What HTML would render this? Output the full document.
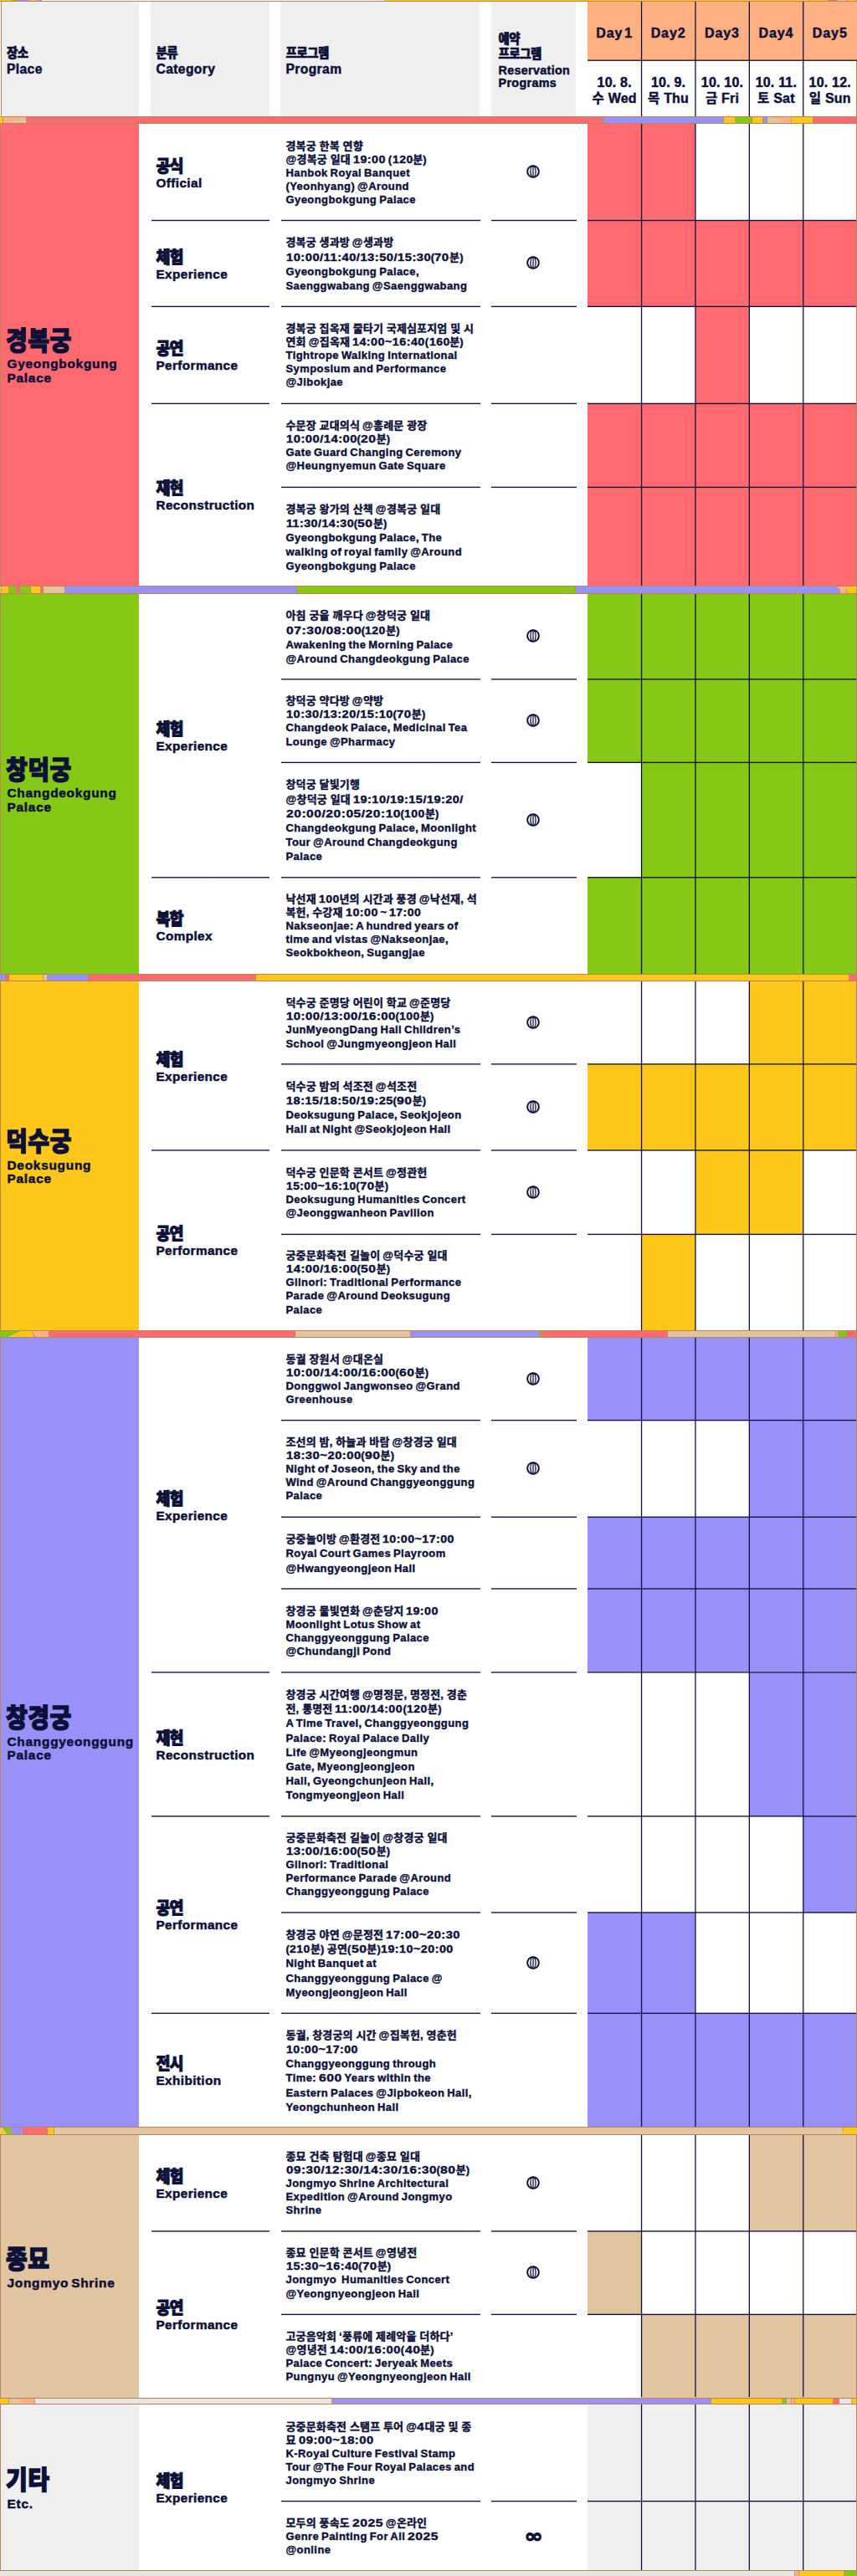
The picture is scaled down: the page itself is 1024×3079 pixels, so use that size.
<!DOCTYPE html>
<html lang="ko"><head><meta charset="utf-8"><title>Schedule</title><style>
html,body{margin:0;padding:0;background:#fff}
body{width:1024px;height:3079px;position:relative;overflow:hidden;color:#0d1038;font-family:"Liberation Sans","Noto Sans CJK KR",sans-serif;font-weight:700}
#pg{position:absolute;left:0;top:0;width:1024px;height:3079px;overflow:hidden}
#pg>div{position:absolute}
.hk{font-family:"Noto Sans CJK KR",sans-serif;font-weight:900;font-size:14.5px;line-height:20px;letter-spacing:-.5px;-webkit-text-stroke:.6px #0d1038;transform:scaleY(1.06);transform-origin:left center;white-space:nowrap}
.he{font-weight:700;font-size:15.6px;line-height:20px;letter-spacing:.4px;-webkit-text-stroke:.5px #0d1038;white-space:nowrap}
.he2{font-size:14.3px;letter-spacing:.35px}
.dh,.dd{-webkit-text-stroke:.45px #0d1038;display:flex;align-items:center;justify-content:center;text-align:center;font-size:16px;white-space:nowrap}
.dh{letter-spacing:.9px;padding-top:5px;box-sizing:border-box}
.dd{line-height:18.8px;letter-spacing:.2px;padding-top:5.4px;box-sizing:border-box}
.dd .k{font-family:"Noto Sans CJK KR",sans-serif;font-weight:700;font-size:15.5px;line-height:0}
.pl{display:flex;align-items:center}
.plin{padding-left:6px}
.pk{-webkit-text-stroke:1.2px #0d1038;font-family:"Noto Sans CJK KR",sans-serif;font-weight:900;font-size:28px;line-height:34px;letter-spacing:.5px;transform:scaleY(1.1);transform-origin:left center;white-space:nowrap}
.pe{-webkit-text-stroke:.5px #0d1038;font-size:15.4px;line-height:16.3px;letter-spacing:.75px;white-space:nowrap;word-spacing:-2px;margin-top:5.5px;padding-left:1.5px}
.ct{display:flex;align-items:center}
.ck{-webkit-text-stroke:.9px #0d1038;font-family:"Noto Sans CJK KR",sans-serif;font-weight:900;font-size:18.5px;line-height:22px;letter-spacing:-1px;transform:scaleY(1.1);transform-origin:left center;white-space:nowrap}
.ce{-webkit-text-stroke:.5px #0d1038;font-size:15.3px;line-height:18px;letter-spacing:.4px;white-space:nowrap;position:relative;top:2px}
.pg{-webkit-text-stroke:.4px #0d1038;display:flex;align-items:center;font-size:13px;line-height:16.3px;letter-spacing:.42px;word-spacing:-1.1px;white-space:nowrap;padding-top:2.4px;box-sizing:border-box}
.T{line-height:17.15px}
.N{line-height:16.1px}
.k{letter-spacing:.15px;word-spacing:0}
.d{display:inline-block;transform-origin:0 50%}
.rv{display:flex;align-items:center;justify-content:center}
.ic{display:block;position:relative;left:-.4px;top:-.2px}
.inf{font-family:"DejaVu Sans","Liberation Sans",sans-serif;font-size:23px;font-weight:700;line-height:1;-webkit-text-stroke:1.1px #0d1038;display:inline-block;transform:scaleX(1.16);position:relative;top:1.2px;left:.5px}
</style></head><body><div id="pg">
<div style="left:0px;top:0px;width:15px;height:2px;background:#ffc71a;box-shadow:inset -1px 0 0 rgba(185,133,82,.75)"></div>
<div style="left:15px;top:0px;width:6px;height:2px;background:#86c816;box-shadow:inset -1px 0 0 rgba(185,133,82,.75)"></div>
<div style="left:21px;top:0px;width:14px;height:2px;background:#9891fa;box-shadow:inset -1px 0 0 rgba(185,133,82,.75)"></div>
<div style="left:35px;top:0px;width:11px;height:2px;background:#ffb083;box-shadow:inset -1px 0 0 rgba(185,133,82,.75)"></div>
<div style="left:46px;top:0px;width:4px;height:2px;background:#9891fa;box-shadow:inset -1px 0 0 rgba(185,133,82,.75)"></div>
<div style="left:459px;top:0px;width:531px;height:2px;background:#ffc71a;box-shadow:inset -1px 0 0 rgba(185,133,82,.75)"></div>
<div style="left:990px;top:0px;width:10px;height:2px;background:#ff6a71;box-shadow:inset -1px 0 0 rgba(185,133,82,.75)"></div>
<div style="left:1000px;top:0px;width:12px;height:2px;background:#e2c4a0;box-shadow:inset -1px 0 0 rgba(185,133,82,.75)"></div>
<div style="left:1012px;top:0px;width:12px;height:2px;background:#ffc71a;box-shadow:inset -1px 0 0 rgba(185,133,82,.75)"></div>
<div style="left:0px;top:139px;width:4px;height:10px;background:#ffc71a;box-shadow:inset -1px 0 0 rgba(185,133,82,.75)"></div>
<div style="left:4px;top:139px;width:27px;height:10px;background:#ffb083;box-shadow:inset -1px 0 0 rgba(185,133,82,.75)"></div>
<div style="left:31px;top:139px;width:690px;height:10px;background:#ff6a71;box-shadow:inset -1px 0 0 rgba(185,133,82,.75)"></div>
<div style="left:721px;top:139px;width:144px;height:10px;background:#9891fa;box-shadow:inset -1px 0 0 rgba(185,133,82,.75)"></div>
<div style="left:865px;top:139px;width:14px;height:10px;background:#ffc71a;box-shadow:inset -1px 0 0 rgba(185,133,82,.75)"></div>
<div style="left:879px;top:139px;width:20px;height:10px;background:#86c816;box-shadow:inset -1px 0 0 rgba(185,133,82,.75)"></div>
<div style="left:899px;top:139px;width:13px;height:10px;background:#ffc71a;box-shadow:inset -1px 0 0 rgba(185,133,82,.75)"></div>
<div style="left:912px;top:139px;width:5px;height:10px;background:#9891fa;box-shadow:inset -1px 0 0 rgba(185,133,82,.75)"></div>
<div style="left:917px;top:139px;width:29px;height:10px;background:#e2c4a0;box-shadow:inset -1px 0 0 rgba(185,133,82,.75)"></div>
<div style="left:946px;top:139px;width:26px;height:10px;background:#ffc71a;box-shadow:inset -1px 0 0 rgba(185,133,82,.75)"></div>
<div style="left:972px;top:139px;width:52px;height:10px;background:#ff6a71;box-shadow:inset -1px 0 0 rgba(185,133,82,.75)"></div>
<div style="left:0px;top:700px;width:2px;height:10px;background:#e2c4a0;box-shadow:inset -1px 0 0 rgba(185,133,82,.75)"></div>
<div style="left:2px;top:700px;width:9px;height:10px;background:#ffc71a;box-shadow:inset -1px 0 0 rgba(185,133,82,.75)"></div>
<div style="left:11px;top:700px;width:9px;height:10px;background:#86c816;box-shadow:inset -1px 0 0 rgba(185,133,82,.75)"></div>
<div style="left:20px;top:700px;width:4px;height:10px;background:#ff6a71;box-shadow:inset -1px 0 0 rgba(185,133,82,.75)"></div>
<div style="left:24px;top:700px;width:13px;height:10px;background:#86c816;box-shadow:inset -1px 0 0 rgba(185,133,82,.75)"></div>
<div style="left:37px;top:700px;width:12px;height:10px;background:#ffc71a;box-shadow:inset -1px 0 0 rgba(185,133,82,.75)"></div>
<div style="left:49px;top:700px;width:3px;height:10px;background:#ff6a71;box-shadow:inset -1px 0 0 rgba(185,133,82,.75)"></div>
<div style="left:52px;top:700px;width:26px;height:10px;background:#e2c4a0;box-shadow:inset -1px 0 0 rgba(185,133,82,.75)"></div>
<div style="left:78px;top:700px;width:277px;height:10px;background:#9891fa;box-shadow:inset -1px 0 0 rgba(185,133,82,.75)"></div>
<div style="left:355px;top:700px;width:333px;height:10px;background:#86c816;box-shadow:inset -1px 0 0 rgba(185,133,82,.75)"></div>
<div style="left:688px;top:700px;width:316px;height:10px;background:#9891fa;box-shadow:inset -1px 0 0 rgba(185,133,82,.75)"></div>
<div style="left:1004px;top:700px;width:8px;height:10px;background:#ffb083;box-shadow:inset -1px 0 0 rgba(185,133,82,.75)"></div>
<div style="left:1012px;top:700px;width:12px;height:10px;background:#ffc71a;box-shadow:inset -1px 0 0 rgba(185,133,82,.75)"></div>
<div style="left:0px;top:1163px;width:7px;height:10px;background:#9891fa;box-shadow:inset -1px 0 0 rgba(185,133,82,.75)"></div>
<div style="left:7px;top:1163px;width:4px;height:10px;background:#ff6a71;box-shadow:inset -1px 0 0 rgba(185,133,82,.75)"></div>
<div style="left:11px;top:1163px;width:41px;height:10px;background:#ffc71a;box-shadow:inset -1px 0 0 rgba(185,133,82,.75)"></div>
<div style="left:52px;top:1163px;width:5px;height:10px;background:#e2c4a0;box-shadow:inset -1px 0 0 rgba(185,133,82,.75)"></div>
<div style="left:57px;top:1163px;width:49px;height:10px;background:#9891fa;box-shadow:inset -1px 0 0 rgba(185,133,82,.75)"></div>
<div style="left:106px;top:1163px;width:200px;height:10px;background:#ff6a71;box-shadow:inset -1px 0 0 rgba(185,133,82,.75)"></div>
<div style="left:306px;top:1163px;width:709px;height:10px;background:#ffc71a;box-shadow:inset -1px 0 0 rgba(185,133,82,.75)"></div>
<div style="left:1015px;top:1163px;width:9px;height:10px;background:#ff6a71;box-shadow:inset -1px 0 0 rgba(185,133,82,.75)"></div>
<div style="left:0px;top:1589px;width:38px;height:10px;background:#86c816;box-shadow:inset -1px 0 0 rgba(185,133,82,.75)"></div>
<div style="left:38px;top:1589px;width:20px;height:10px;background:#ff6a71;box-shadow:inset -1px 0 0 rgba(185,133,82,.75)"></div>
<div style="left:58px;top:1589px;width:295px;height:10px;background:#ff6a71;box-shadow:inset -1px 0 0 rgba(185,133,82,.75)"></div>
<div style="left:353px;top:1589px;width:138px;height:10px;background:#e2c4a0;box-shadow:inset -1px 0 0 rgba(185,133,82,.75)"></div>
<div style="left:491px;top:1589px;width:154px;height:10px;background:#9891fa;box-shadow:inset -1px 0 0 rgba(185,133,82,.75)"></div>
<div style="left:645px;top:1589px;width:2px;height:10px;background:#86c816;box-shadow:inset -1px 0 0 rgba(185,133,82,.75)"></div>
<div style="left:647px;top:1589px;width:151px;height:10px;background:#ff6a71;box-shadow:inset -1px 0 0 rgba(185,133,82,.75)"></div>
<div style="left:798px;top:1589px;width:201px;height:10px;background:#e2c4a0;box-shadow:inset -1px 0 0 rgba(185,133,82,.75)"></div>
<div style="left:999px;top:1589px;width:3px;height:10px;background:#ffb083;box-shadow:inset -1px 0 0 rgba(185,133,82,.75)"></div>
<div style="left:1002px;top:1589px;width:10px;height:10px;background:#86c816;box-shadow:inset -1px 0 0 rgba(185,133,82,.75)"></div>
<div style="left:1012px;top:1589px;width:12px;height:10px;background:#ff6a71;box-shadow:inset -1px 0 0 rgba(185,133,82,.75)"></div>
<div style="left:0px;top:2541px;width:12px;height:11px;background:#e2c4a0;box-shadow:inset -1px 0 0 rgba(185,133,82,.75)"></div>
<div style="left:12px;top:2541px;width:16px;height:11px;background:#9891fa;box-shadow:inset -1px 0 0 rgba(185,133,82,.75)"></div>
<div style="left:28px;top:2541px;width:29px;height:11px;background:#ff6a71;box-shadow:inset -1px 0 0 rgba(185,133,82,.75)"></div>
<div style="left:57px;top:2541px;width:8px;height:11px;background:#ffc71a;box-shadow:inset -1px 0 0 rgba(185,133,82,.75)"></div>
<div style="left:65px;top:2541px;width:943px;height:11px;background:#e2c4a0;box-shadow:inset -1px 0 0 rgba(185,133,82,.75)"></div>
<div style="left:1008px;top:2541px;width:16px;height:11px;background:#ffc71a;box-shadow:inset -1px 0 0 rgba(185,133,82,.75)"></div>
<div style="left:0px;top:2865px;width:11px;height:10px;background:#ffc71a;box-shadow:inset -1px 0 0 rgba(185,133,82,.75)"></div>
<div style="left:11px;top:2865px;width:31px;height:10px;background:#e2c4a0;box-shadow:inset -1px 0 0 rgba(185,133,82,.75)"></div>
<div style="left:42px;top:2865px;width:355px;height:10px;background:#e6e6e6;box-shadow:inset -1px 0 0 rgba(185,133,82,.75)"></div>
<div style="left:397px;top:2865px;width:453px;height:10px;background:#9891fa;box-shadow:inset -1px 0 0 rgba(185,133,82,.75)"></div>
<div style="left:850px;top:2865px;width:85px;height:10px;background:#ffc71a;box-shadow:inset -1px 0 0 rgba(185,133,82,.75)"></div>
<div style="left:935px;top:2865px;width:5px;height:10px;background:#86c816;box-shadow:inset -1px 0 0 rgba(185,133,82,.75)"></div>
<div style="left:940px;top:2865px;width:6px;height:10px;background:#e2c4a0;box-shadow:inset -1px 0 0 rgba(185,133,82,.75)"></div>
<div style="left:946px;top:2865px;width:4px;height:10px;background:#ffb083;box-shadow:inset -1px 0 0 rgba(185,133,82,.75)"></div>
<div style="left:950px;top:2865px;width:46px;height:10px;background:#ffc71a;box-shadow:inset -1px 0 0 rgba(185,133,82,.75)"></div>
<div style="left:996px;top:2865px;width:7px;height:10px;background:#ff6a71;box-shadow:inset -1px 0 0 rgba(185,133,82,.75)"></div>
<div style="left:1003px;top:2865px;width:15px;height:10px;background:#e6e6e6;box-shadow:inset -1px 0 0 rgba(185,133,82,.75)"></div>
<div style="left:1018px;top:2865px;width:6px;height:10px;background:#ffc71a;box-shadow:inset -1px 0 0 rgba(185,133,82,.75)"></div>
<div style="left:0px;top:3071px;width:950px;height:8px;background:#e6e6e6;box-shadow:inset -1px 0 0 rgba(185,133,82,.75)"></div>
<div style="left:950px;top:3071px;width:5px;height:8px;background:#ffb083;box-shadow:inset -1px 0 0 rgba(185,133,82,.75)"></div>
<div style="left:955px;top:3071px;width:54px;height:8px;background:#ffc71a;box-shadow:inset -1px 0 0 rgba(185,133,82,.75)"></div>
<div style="left:1009px;top:3071px;width:15px;height:8px;background:#86c816;box-shadow:inset -1px 0 0 rgba(185,133,82,.75)"></div>
<div style="left:4px;top:140px;width:27px;height:7px;background:#e2c4a0;clip-path:polygon(8px 7px,27px 0px,27px 7px)"></div>
<div style="left:917px;top:140px;width:29px;height:7px;background:#ffb083;clip-path:polygon(7px 0px,29px 0px,27px 7px,21px 7px)"></div>
<div style="left:1000px;top:701px;width:14px;height:8px;background:#ffb083;clip-path:polygon(0px 0px,14px 0px,7px 8px)"></div>
<div style="left:0px;top:1590px;width:40px;height:8px;background:#ffc71a;clip-path:polygon(10px 8px,26px 0px,38px 0px,40px 8px)"></div>
<div style="left:0px;top:1590px;width:60px;height:8px;background:#ffb083;clip-path:polygon(38px 0px,58px 0px,58px 8px,42px 8px)"></div>
<div style="left:1000px;top:1590px;width:14px;height:8px;background:#86c816;clip-path:polygon(2px 0px,7px 0px,12px 8px,2px 8px)"></div>
<div style="left:0px;top:2543px;width:18px;height:8px;background:#86c816;clip-path:polygon(3px 0px,10px 0px,16px 8px,8px 8px)"></div>
<div style="left:0px;top:2543px;width:8px;height:8px;background:#ffc71a;clip-path:polygon(0px 8px,3px 0px,6px 8px)"></div>
<div style="left:1004px;top:2543px;width:20px;height:8px;background:#ffc71a;clip-path:polygon(0px 8px,8px 0px,20px 0px,20px 8px)"></div>
<div style="left:11px;top:2866px;width:31px;height:8px;background:#ffb083;clip-path:polygon(8px 0px,31px 0px,29px 8px,20px 8px)"></div>
<div style="left:1px;top:1px;width:1023px;height:139px;background:#fff;border:1px solid #b98552;box-sizing:border-box"></div>
<div style="left:2px;top:2px;width:164px;height:137px;background:#efefef"></div>
<div class="hk" style="left:8px;top:53px;width:300px;height:20px;">장소</div>
<div class="he" style="left:8px;top:72.6px;width:300px;height:20px;">Place</div>
<div style="left:180px;top:2px;width:142px;height:137px;background:#efefef"></div>
<div class="hk" style="left:186.5px;top:53px;width:300px;height:20px;">분류</div>
<div class="he" style="left:186.5px;top:72.6px;width:300px;height:20px;">Category</div>
<div style="left:335px;top:2px;width:238px;height:137px;background:#efefef"></div>
<div class="hk" style="left:341.5px;top:53px;width:300px;height:20px;">프로그램</div>
<div class="he" style="left:341.5px;top:72.6px;width:300px;height:20px;">Program</div>
<div style="left:587px;top:2px;width:101px;height:137px;background:#efefef"></div>
<div class="hk" style="left:595.5px;top:36px;width:300px;height:20px;">예약</div>
<div class="hk" style="left:595.5px;top:54px;width:300px;height:20px;">프로그램</div>
<div class="he he2" style="left:595.5px;top:74px;width:300px;height:20px;">Reservation</div>
<div class="he he2" style="left:595.5px;top:89px;width:300px;height:20px;">Programs</div>
<div style="left:702px;top:2px;width:322px;height:70px;background:#ffb083"></div>
<div style="left:702px;top:71px;width:322px;height:2px;background:linear-gradient(to bottom,rgba(14,16,58,0.47) 0px 1px,rgba(14,16,58,0.88) 1px 2px)"></div>
<div class="dh" style="left:702px;top:2px;width:64.4px;height:70px;"><div>Day<span style='margin-left:2px'>1</span></div></div>
<div class="dd" style="left:702px;top:73px;width:64.4px;height:66px;"><div>10. 8.<br><span class="k">수</span> Wed</div></div>
<div style="left:765px;top:2px;width:3px;height:137px;background:linear-gradient(to right,rgba(14,16,58,0.10) 0px 1px,rgba(14,16,58,1.00) 1px 2px,rgba(14,16,58,0.20) 2px 3px)"></div>
<div class="dh" style="left:766.4px;top:2px;width:64.4px;height:70px;"><div>Day2</div></div>
<div class="dd" style="left:766.4px;top:73px;width:64.4px;height:66px;"><div>10. 9.<br><span class="k">목</span> Thu</div></div>
<div style="left:830px;top:2px;width:2px;height:137px;background:linear-gradient(to right,rgba(14,16,58,0.70) 0px 1px,rgba(14,16,58,0.60) 1px 2px)"></div>
<div class="dh" style="left:830.8px;top:2px;width:64.4px;height:70px;"><div>Day3</div></div>
<div class="dd" style="left:830.8px;top:73px;width:64.4px;height:66px;"><div>10. 10.<br><span class="k">금</span> Fri</div></div>
<div style="left:894px;top:2px;width:2px;height:137px;background:linear-gradient(to right,rgba(14,16,58,0.30) 0px 1px,rgba(14,16,58,1.00) 1px 2px)"></div>
<div class="dh" style="left:895.2px;top:2px;width:64.4px;height:70px;"><div>Day4</div></div>
<div class="dd" style="left:895.2px;top:73px;width:64.4px;height:66px;"><div>10. 11.<br><span class="k">토</span> Sat</div></div>
<div style="left:959px;top:2px;width:2px;height:137px;background:linear-gradient(to right,rgba(14,16,58,0.90) 0px 1px,rgba(14,16,58,0.40) 1px 2px)"></div>
<div class="dh" style="left:959.6px;top:2px;width:64.4px;height:70px;"><div>Day5</div></div>
<div class="dd" style="left:959.6px;top:73px;width:64.4px;height:66px;"><div>10. 12.<br><span class="k">일</span> Sun</div></div>
<div style="left:1px;top:148px;width:1022px;height:552px;background:#fff;box-shadow:0 0 0 1px #b98552"></div>
<div class="pl" style="left:1px;top:148px;width:165px;height:552px;background:#ff6a71"><div class="plin"><div class="pk">경복궁</div><div class="pe">Gyeongbokgung<br>Palace</div></div></div>
<div class="pg N" style="left:341.5px;top:148px;width:251.5px;height:115.1px;"><div><span class="k">경복궁 한복 연향</span><br>@<span class="k">경복궁 일대</span> <span class="d" style="transform:scaleX(1.102);margin-right:3.60px">19:00</span> (<span class="d" style="transform:scaleX(1.076);margin-right:1.75px">120</span><span class="k">분</span>)<br>Hanbok Royal Banquet<br>(Yeonhyang) @Around<br>Gyeongbokgung Palace</div></div>
<div style="left:335.5px;top:262px;width:238px;height:3px;background:linear-gradient(to bottom,rgba(14,16,58,0.18) 0px 1px,rgba(14,16,58,1.00) 1px 2px,rgba(14,16,58,0.18) 2px 3px)"></div>
<div style="left:587px;top:262px;width:101.5px;height:3px;background:linear-gradient(to bottom,rgba(14,16,58,0.18) 0px 1px,rgba(14,16,58,1.00) 1px 2px,rgba(14,16,58,0.18) 2px 3px)"></div>
<div class="rv" style="left:587px;top:148px;width:101px;height:115.1px;"><svg class="ic" width="18" height="18" viewBox="-9 -9 18 18"><circle r="6.85" fill="none" stroke="#0d1038" stroke-width="1.95"/><ellipse rx="3.1" ry="6.8" fill="none" stroke="#0d1038" stroke-width="1.3"/><line y1="-7" y2="7" stroke="#0d1038" stroke-width="1.25"/></svg></div>
<div style="left:702px;top:148px;width:64.4px;height:115.1px;background:#ff6a71"></div>
<div style="left:766.4px;top:148px;width:64.4px;height:115.1px;background:#ff6a71"></div>
<div class="pg T" style="left:341.5px;top:263.1px;width:251.5px;height:102.9px;"><div><span class="k">경복궁 생과방</span> @<span class="k">생과방</span><br><span class="d" style="transform:scaleX(1.133);margin-right:20.35px">10:00/11:40/13:50/15:30</span>(<span class="d" style="transform:scaleX(1.157);margin-right:2.40px">70</span><span class="k">분</span>)<br>Gyeongbokgung Palace,<br>Saenggwabang @Saenggwabang</div></div>
<div style="left:335.5px;top:365px;width:238px;height:3px;background:linear-gradient(to bottom,rgba(14,16,58,0.28) 0px 1px,rgba(14,16,58,1.00) 1px 2px,rgba(14,16,58,0.07) 2px 3px)"></div>
<div style="left:587px;top:365px;width:101.5px;height:3px;background:linear-gradient(to bottom,rgba(14,16,58,0.28) 0px 1px,rgba(14,16,58,1.00) 1px 2px,rgba(14,16,58,0.07) 2px 3px)"></div>
<div class="rv" style="left:587px;top:263.1px;width:101px;height:102.9px;"><svg class="ic" width="18" height="18" viewBox="-9 -9 18 18"><circle r="6.85" fill="none" stroke="#0d1038" stroke-width="1.95"/><ellipse rx="3.1" ry="6.8" fill="none" stroke="#0d1038" stroke-width="1.3"/><line y1="-7" y2="7" stroke="#0d1038" stroke-width="1.25"/></svg></div>
<div style="left:702px;top:263.1px;width:64.4px;height:102.9px;background:#ff6a71"></div>
<div style="left:766.4px;top:263.1px;width:64.4px;height:102.9px;background:#ff6a71"></div>
<div style="left:830.8px;top:263.1px;width:64.4px;height:102.9px;background:#ff6a71"></div>
<div style="left:895.2px;top:263.1px;width:64.4px;height:102.9px;background:#ff6a71"></div>
<div style="left:959.6px;top:263.1px;width:63.4px;height:102.9px;background:#ff6a71"></div>
<div class="pg N" style="left:341.5px;top:366px;width:251.5px;height:116px;"><div><span class="k">경복궁 집옥재 줄타기 국제심포지엄 및 시</span><br><span class="k">연회</span> @<span class="k">집옥재</span> <span class="d" style="transform:scaleX(1.102);margin-right:8.00px">14:00~16:40</span>(<span class="d" style="transform:scaleX(1.076);margin-right:1.75px">160</span><span class="k">분</span>)<br>Tightrope Walking International<br>Symposium and Performance<br>@Jibokjae</div></div>
<div style="left:335.5px;top:481px;width:238px;height:3px;background:linear-gradient(to bottom,rgba(14,16,58,0.28) 0px 1px,rgba(14,16,58,1.00) 1px 2px,rgba(14,16,58,0.07) 2px 3px)"></div>
<div style="left:587px;top:481px;width:101.5px;height:3px;background:linear-gradient(to bottom,rgba(14,16,58,0.28) 0px 1px,rgba(14,16,58,1.00) 1px 2px,rgba(14,16,58,0.07) 2px 3px)"></div>
<div style="left:830.8px;top:366px;width:64.4px;height:116px;background:#ff6a71"></div>
<div class="pg N" style="left:341.5px;top:482px;width:251.5px;height:100px;"><div><span class="k">수문장 교대의식</span> @<span class="k">흥례문 광장</span><br><span class="d" style="transform:scaleX(1.137);margin-right:10.20px">10:00/14:00</span>(<span class="d" style="transform:scaleX(1.209);margin-right:3.20px">20</span><span class="k">분</span>)<br>Gate Guard Changing Ceremony<br>@Heungnyemun Gate Square</div></div>
<div style="left:335.5px;top:581px;width:238px;height:3px;background:linear-gradient(to bottom,rgba(14,16,58,0.27) 0px 1px,rgba(14,16,58,1.00) 1px 2px,rgba(14,16,58,0.07) 2px 3px)"></div>
<div style="left:587px;top:581px;width:101.5px;height:3px;background:linear-gradient(to bottom,rgba(14,16,58,0.27) 0px 1px,rgba(14,16,58,1.00) 1px 2px,rgba(14,16,58,0.07) 2px 3px)"></div>
<div style="left:702px;top:482px;width:64.4px;height:100px;background:#ff6a71"></div>
<div style="left:766.4px;top:482px;width:64.4px;height:100px;background:#ff6a71"></div>
<div style="left:830.8px;top:482px;width:64.4px;height:100px;background:#ff6a71"></div>
<div style="left:895.2px;top:482px;width:64.4px;height:100px;background:#ff6a71"></div>
<div style="left:959.6px;top:482px;width:63.4px;height:100px;background:#ff6a71"></div>
<div class="pg T" style="left:341.5px;top:582px;width:251.5px;height:118.4px;"><div><span class="k">경복궁 왕가의 산책</span> @<span class="k">경복궁 일대</span><br><span class="d" style="transform:scaleX(1.096);margin-right:7.15px">11:30/14:30</span>(<span class="d" style="transform:scaleX(1.209);margin-right:3.20px">50</span><span class="k">분</span>)<br>Gyeongbokgung Palace, The<br>walking of royal family @Around<br>Gyeongbokgung Palace</div></div>
<div style="left:702px;top:582px;width:64.4px;height:118.4px;background:#ff6a71"></div>
<div style="left:766.4px;top:582px;width:64.4px;height:118.4px;background:#ff6a71"></div>
<div style="left:830.8px;top:582px;width:64.4px;height:118.4px;background:#ff6a71"></div>
<div style="left:895.2px;top:582px;width:64.4px;height:118.4px;background:#ff6a71"></div>
<div style="left:959.6px;top:582px;width:63.4px;height:118.4px;background:#ff6a71"></div>
<div style="left:702px;top:262px;width:321px;height:3px;background:linear-gradient(to bottom,rgba(14,16,58,0.18) 0px 1px,rgba(14,16,58,1.00) 1px 2px,rgba(14,16,58,0.18) 2px 3px)"></div>
<div style="left:702px;top:365px;width:321px;height:3px;background:linear-gradient(to bottom,rgba(14,16,58,0.28) 0px 1px,rgba(14,16,58,1.00) 1px 2px,rgba(14,16,58,0.07) 2px 3px)"></div>
<div style="left:702px;top:481px;width:321px;height:3px;background:linear-gradient(to bottom,rgba(14,16,58,0.28) 0px 1px,rgba(14,16,58,1.00) 1px 2px,rgba(14,16,58,0.07) 2px 3px)"></div>
<div style="left:702px;top:581px;width:321px;height:3px;background:linear-gradient(to bottom,rgba(14,16,58,0.27) 0px 1px,rgba(14,16,58,1.00) 1px 2px,rgba(14,16,58,0.07) 2px 3px)"></div>
<div style="left:765px;top:148px;width:3px;height:552.4px;background:linear-gradient(to right,rgba(14,16,58,0.10) 0px 1px,rgba(14,16,58,1.00) 1px 2px,rgba(14,16,58,0.20) 2px 3px)"></div>
<div style="left:830px;top:148px;width:2px;height:552.4px;background:linear-gradient(to right,rgba(14,16,58,0.70) 0px 1px,rgba(14,16,58,0.60) 1px 2px)"></div>
<div style="left:894px;top:148px;width:2px;height:552.4px;background:linear-gradient(to right,rgba(14,16,58,0.30) 0px 1px,rgba(14,16,58,1.00) 1px 2px)"></div>
<div style="left:959px;top:148px;width:2px;height:552.4px;background:linear-gradient(to right,rgba(14,16,58,0.90) 0px 1px,rgba(14,16,58,0.40) 1px 2px)"></div>
<div class="ct" style="left:186.5px;top:148px;width:140px;height:115.1px;"><div><div class="ck">공식</div><div class="ce">Official</div></div></div>
<div style="left:180.5px;top:262px;width:141.5px;height:3px;background:linear-gradient(to bottom,rgba(14,16,58,0.18) 0px 1px,rgba(14,16,58,1.00) 1px 2px,rgba(14,16,58,0.18) 2px 3px)"></div>
<div class="ct" style="left:186.5px;top:263.1px;width:140px;height:102.9px;"><div><div class="ck">체험</div><div class="ce">Experience</div></div></div>
<div style="left:180.5px;top:365px;width:141.5px;height:3px;background:linear-gradient(to bottom,rgba(14,16,58,0.28) 0px 1px,rgba(14,16,58,1.00) 1px 2px,rgba(14,16,58,0.07) 2px 3px)"></div>
<div class="ct" style="left:186.5px;top:366px;width:140px;height:116px;"><div><div class="ck">공연</div><div class="ce">Performance</div></div></div>
<div style="left:180.5px;top:481px;width:141.5px;height:3px;background:linear-gradient(to bottom,rgba(14,16,58,0.28) 0px 1px,rgba(14,16,58,1.00) 1px 2px,rgba(14,16,58,0.07) 2px 3px)"></div>
<div class="ct" style="left:186.5px;top:482px;width:140px;height:218.4px;"><div><div class="ck">재현</div><div class="ce">Reconstruction</div></div></div>
<div style="left:1px;top:710px;width:1022px;height:454px;background:#fff;box-shadow:0 0 0 1px #b98552"></div>
<div class="pl" style="left:1px;top:710px;width:165px;height:454px;background:#86c816"><div class="plin"><div class="pk">창덕궁</div><div class="pe">Changdeokgung<br>Palace</div></div></div>
<div class="pg T" style="left:341.5px;top:709.5px;width:251.5px;height:102px;"><div><span class="k">아침 궁을 깨우다</span> @<span class="k">창덕궁 일대</span><br><span class="d" style="transform:scaleX(1.207);margin-right:15.50px">07:30/08:00</span>(<span class="d" style="transform:scaleX(1.076);margin-right:1.75px">120</span><span class="k">분</span>)<br>Awakening the Morning Palace<br>@Around Changdeokgung Palace</div></div>
<div style="left:335.5px;top:811px;width:238px;height:2px;background:linear-gradient(to bottom,rgba(14,16,58,0.77) 0px 1px,rgba(14,16,58,0.57) 1px 2px)"></div>
<div style="left:587px;top:811px;width:101.5px;height:2px;background:linear-gradient(to bottom,rgba(14,16,58,0.77) 0px 1px,rgba(14,16,58,0.57) 1px 2px)"></div>
<div class="rv" style="left:587px;top:709.5px;width:101px;height:102px;"><svg class="ic" width="18" height="18" viewBox="-9 -9 18 18"><circle r="6.85" fill="none" stroke="#0d1038" stroke-width="1.95"/><ellipse rx="3.1" ry="6.8" fill="none" stroke="#0d1038" stroke-width="1.3"/><line y1="-7" y2="7" stroke="#0d1038" stroke-width="1.25"/></svg></div>
<div style="left:702px;top:709.5px;width:64.4px;height:102px;background:#86c816"></div>
<div style="left:766.4px;top:709.5px;width:64.4px;height:102px;background:#86c816"></div>
<div style="left:830.8px;top:709.5px;width:64.4px;height:102px;background:#86c816"></div>
<div style="left:895.2px;top:709.5px;width:64.4px;height:102px;background:#86c816"></div>
<div style="left:959.6px;top:709.5px;width:63.4px;height:102px;background:#86c816"></div>
<div class="pg N" style="left:341.5px;top:811.5px;width:251.5px;height:99.5px;"><div><span class="k">창덕궁 약다방</span> @<span class="k">약방</span><br><span class="d" style="transform:scaleX(1.121);margin-right:13.75px">10:30/13:20/15:10</span>(<span class="d" style="transform:scaleX(1.157);margin-right:2.40px">70</span><span class="k">분</span>)<br>Changdeok Palace, Medicinal Tea<br>Lounge @Pharmacy</div></div>
<div style="left:335.5px;top:910px;width:238px;height:3px;background:linear-gradient(to bottom,rgba(14,16,58,0.27) 0px 1px,rgba(14,16,58,1.00) 1px 2px,rgba(14,16,58,0.07) 2px 3px)"></div>
<div style="left:587px;top:910px;width:101.5px;height:3px;background:linear-gradient(to bottom,rgba(14,16,58,0.27) 0px 1px,rgba(14,16,58,1.00) 1px 2px,rgba(14,16,58,0.07) 2px 3px)"></div>
<div class="rv" style="left:587px;top:811.5px;width:101px;height:99.5px;"><svg class="ic" width="18" height="18" viewBox="-9 -9 18 18"><circle r="6.85" fill="none" stroke="#0d1038" stroke-width="1.95"/><ellipse rx="3.1" ry="6.8" fill="none" stroke="#0d1038" stroke-width="1.3"/><line y1="-7" y2="7" stroke="#0d1038" stroke-width="1.25"/></svg></div>
<div style="left:702px;top:811.5px;width:64.4px;height:99.5px;background:#86c816"></div>
<div style="left:766.4px;top:811.5px;width:64.4px;height:99.5px;background:#86c816"></div>
<div style="left:830.8px;top:811.5px;width:64.4px;height:99.5px;background:#86c816"></div>
<div style="left:895.2px;top:811.5px;width:64.4px;height:99.5px;background:#86c816"></div>
<div style="left:959.6px;top:811.5px;width:63.4px;height:99.5px;background:#86c816"></div>
<div class="pg T" style="left:341.5px;top:911px;width:251.5px;height:137.4px;"><div><span class="k">창덕궁 달빛기행</span><br>@<span class="k">창덕궁 일대</span> <span class="d" style="transform:scaleX(1.116);margin-right:13.70px">19:10/19:15/19:20/</span><br><span class="d" style="transform:scaleX(1.201);margin-right:22.90px">20:00/20:05/20:10</span>(<span class="d" style="transform:scaleX(1.076);margin-right:1.75px">100</span><span class="k">분</span>)<br>Changdeokgung Palace, Moonlight<br>Tour @Around Changdeokgung<br>Palace</div></div>
<div style="left:335.5px;top:1048px;width:238px;height:2px;background:linear-gradient(to bottom,rgba(14,16,58,0.87) 0px 1px,rgba(14,16,58,0.48) 1px 2px)"></div>
<div style="left:587px;top:1048px;width:101.5px;height:2px;background:linear-gradient(to bottom,rgba(14,16,58,0.87) 0px 1px,rgba(14,16,58,0.48) 1px 2px)"></div>
<div class="rv" style="left:587px;top:911px;width:101px;height:137.4px;"><svg class="ic" width="18" height="18" viewBox="-9 -9 18 18"><circle r="6.85" fill="none" stroke="#0d1038" stroke-width="1.95"/><ellipse rx="3.1" ry="6.8" fill="none" stroke="#0d1038" stroke-width="1.3"/><line y1="-7" y2="7" stroke="#0d1038" stroke-width="1.25"/></svg></div>
<div style="left:766.4px;top:911px;width:64.4px;height:137.4px;background:#86c816"></div>
<div style="left:830.8px;top:911px;width:64.4px;height:137.4px;background:#86c816"></div>
<div style="left:895.2px;top:911px;width:64.4px;height:137.4px;background:#86c816"></div>
<div style="left:959.6px;top:911px;width:63.4px;height:137.4px;background:#86c816"></div>
<div class="pg N" style="left:341.5px;top:1048.4px;width:251.5px;height:115.4px;"><div><span class="k">낙선재</span> <span class="d" style="transform:scaleX(1.076);margin-right:1.75px">100</span><span class="k">년의 시간과 풍경</span> @<span class="k">낙선재, 석</span><br><span class="k">복헌, 수강재</span> <span class="d" style="transform:scaleX(1.102);margin-right:3.60px">10:00</span> ~ <span class="d" style="transform:scaleX(1.079);margin-right:2.80px">17:00</span><br>Nakseonjae: A hundred years of<br>time and vistas @Nakseonjae,<br>Seokbokheon, Sugangjae</div></div>
<div style="left:702px;top:1048.4px;width:64.4px;height:115.4px;background:#86c816"></div>
<div style="left:766.4px;top:1048.4px;width:64.4px;height:115.4px;background:#86c816"></div>
<div style="left:830.8px;top:1048.4px;width:64.4px;height:115.4px;background:#86c816"></div>
<div style="left:895.2px;top:1048.4px;width:64.4px;height:115.4px;background:#86c816"></div>
<div style="left:959.6px;top:1048.4px;width:63.4px;height:115.4px;background:#86c816"></div>
<div style="left:702px;top:811px;width:321px;height:2px;background:linear-gradient(to bottom,rgba(14,16,58,0.77) 0px 1px,rgba(14,16,58,0.57) 1px 2px)"></div>
<div style="left:702px;top:910px;width:321px;height:3px;background:linear-gradient(to bottom,rgba(14,16,58,0.27) 0px 1px,rgba(14,16,58,1.00) 1px 2px,rgba(14,16,58,0.07) 2px 3px)"></div>
<div style="left:702px;top:1048px;width:321px;height:2px;background:linear-gradient(to bottom,rgba(14,16,58,0.87) 0px 1px,rgba(14,16,58,0.48) 1px 2px)"></div>
<div style="left:765px;top:709.5px;width:3px;height:454.3px;background:linear-gradient(to right,rgba(14,16,58,0.10) 0px 1px,rgba(14,16,58,1.00) 1px 2px,rgba(14,16,58,0.20) 2px 3px)"></div>
<div style="left:830px;top:709.5px;width:2px;height:454.3px;background:linear-gradient(to right,rgba(14,16,58,0.70) 0px 1px,rgba(14,16,58,0.60) 1px 2px)"></div>
<div style="left:894px;top:709.5px;width:2px;height:454.3px;background:linear-gradient(to right,rgba(14,16,58,0.30) 0px 1px,rgba(14,16,58,1.00) 1px 2px)"></div>
<div style="left:959px;top:709.5px;width:2px;height:454.3px;background:linear-gradient(to right,rgba(14,16,58,0.90) 0px 1px,rgba(14,16,58,0.40) 1px 2px)"></div>
<div class="ct" style="left:186.5px;top:709.5px;width:140px;height:338.9px;"><div><div class="ck">체험</div><div class="ce">Experience</div></div></div>
<div style="left:180.5px;top:1048px;width:141.5px;height:2px;background:linear-gradient(to bottom,rgba(14,16,58,0.87) 0px 1px,rgba(14,16,58,0.48) 1px 2px)"></div>
<div class="ct" style="left:186.5px;top:1048.4px;width:140px;height:115.4px;"><div><div class="ck">복합</div><div class="ce">Complex</div></div></div>
<div style="left:1px;top:1173px;width:1022px;height:417px;background:#fff;box-shadow:0 0 0 1px #b98552"></div>
<div class="pl" style="left:1px;top:1173px;width:165px;height:417px;background:#ffc71a"><div class="plin"><div class="pk">덕수궁</div><div class="pe">Deoksugung<br>Palace</div></div></div>
<div class="pg N" style="left:341.5px;top:1173px;width:251.5px;height:98.5px;"><div><span class="k">덕수궁 준명당 어린이 학교</span> @<span class="k">준명당</span><br><span class="d" style="transform:scaleX(1.147);margin-right:16.80px">10:00/13:00/16:00</span>(<span class="d" style="transform:scaleX(1.076);margin-right:1.75px">100</span><span class="k">분</span>)<br>JunMyeongDang Hall Children’s<br>School @Jungmyeongjeon Hall</div></div>
<div style="left:335.5px;top:1271px;width:238px;height:2px;background:linear-gradient(to bottom,rgba(14,16,58,0.77) 0px 1px,rgba(14,16,58,0.58) 1px 2px)"></div>
<div style="left:587px;top:1271px;width:101.5px;height:2px;background:linear-gradient(to bottom,rgba(14,16,58,0.77) 0px 1px,rgba(14,16,58,0.58) 1px 2px)"></div>
<div class="rv" style="left:587px;top:1173px;width:101px;height:98.5px;"><svg class="ic" width="18" height="18" viewBox="-9 -9 18 18"><circle r="6.85" fill="none" stroke="#0d1038" stroke-width="1.95"/><ellipse rx="3.1" ry="6.8" fill="none" stroke="#0d1038" stroke-width="1.3"/><line y1="-7" y2="7" stroke="#0d1038" stroke-width="1.25"/></svg></div>
<div style="left:895.2px;top:1173px;width:64.4px;height:98.5px;background:#ffc71a"></div>
<div style="left:959.6px;top:1173px;width:63.4px;height:98.5px;background:#ffc71a"></div>
<div class="pg T" style="left:341.5px;top:1271.5px;width:251.5px;height:103px;"><div><span class="k">덕수궁 밤의 석조전</span> @<span class="k">석조전</span><br><span class="d" style="transform:scaleX(1.121);margin-right:13.75px">18:15/18:50/19:25</span>(<span class="d" style="transform:scaleX(1.209);margin-right:3.20px">90</span><span class="k">분</span>)<br>Deoksugung Palace, Seokjojeon<br>Hall at Night @Seokjojeon Hall</div></div>
<div style="left:335.5px;top:1374px;width:238px;height:2px;background:linear-gradient(to bottom,rgba(14,16,58,0.77) 0px 1px,rgba(14,16,58,0.58) 1px 2px)"></div>
<div style="left:587px;top:1374px;width:101.5px;height:2px;background:linear-gradient(to bottom,rgba(14,16,58,0.77) 0px 1px,rgba(14,16,58,0.58) 1px 2px)"></div>
<div class="rv" style="left:587px;top:1271.5px;width:101px;height:103px;"><svg class="ic" width="18" height="18" viewBox="-9 -9 18 18"><circle r="6.85" fill="none" stroke="#0d1038" stroke-width="1.95"/><ellipse rx="3.1" ry="6.8" fill="none" stroke="#0d1038" stroke-width="1.3"/><line y1="-7" y2="7" stroke="#0d1038" stroke-width="1.25"/></svg></div>
<div style="left:702px;top:1271.5px;width:64.4px;height:103px;background:#ffc71a"></div>
<div style="left:766.4px;top:1271.5px;width:64.4px;height:103px;background:#ffc71a"></div>
<div style="left:830.8px;top:1271.5px;width:64.4px;height:103px;background:#ffc71a"></div>
<div style="left:895.2px;top:1271.5px;width:64.4px;height:103px;background:#ffc71a"></div>
<div style="left:959.6px;top:1271.5px;width:63.4px;height:103px;background:#ffc71a"></div>
<div class="pg N" style="left:341.5px;top:1374.5px;width:251.5px;height:100.5px;"><div><span class="k">덕수궁 인문학 콘서트</span> @<span class="k">정관헌</span><br><span class="d" style="transform:scaleX(1.063);margin-right:4.95px">15:00~16:10</span>(<span class="d" style="transform:scaleX(1.157);margin-right:2.40px">70</span><span class="k">분</span>)<br>Deoksugung Humanities Concert<br>@Jeonggwanheon Pavilion</div></div>
<div style="left:335.5px;top:1474px;width:238px;height:3px;background:linear-gradient(to bottom,rgba(14,16,58,0.27) 0px 1px,rgba(14,16,58,1.00) 1px 2px,rgba(14,16,58,0.08) 2px 3px)"></div>
<div style="left:587px;top:1474px;width:101.5px;height:3px;background:linear-gradient(to bottom,rgba(14,16,58,0.27) 0px 1px,rgba(14,16,58,1.00) 1px 2px,rgba(14,16,58,0.08) 2px 3px)"></div>
<div class="rv" style="left:587px;top:1374.5px;width:101px;height:100.5px;"><svg class="ic" width="18" height="18" viewBox="-9 -9 18 18"><circle r="6.85" fill="none" stroke="#0d1038" stroke-width="1.95"/><ellipse rx="3.1" ry="6.8" fill="none" stroke="#0d1038" stroke-width="1.3"/><line y1="-7" y2="7" stroke="#0d1038" stroke-width="1.25"/></svg></div>
<div style="left:830.8px;top:1374.5px;width:64.4px;height:100.5px;background:#ffc71a"></div>
<div style="left:895.2px;top:1374.5px;width:64.4px;height:100.5px;background:#ffc71a"></div>
<div class="pg N" style="left:341.5px;top:1475px;width:251.5px;height:114.5px;"><div><span class="k">궁중문화축전 길놀이</span> @<span class="k">덕수궁 일대</span><br><span class="d" style="transform:scaleX(1.137);margin-right:10.20px">14:00/16:00</span>(<span class="d" style="transform:scaleX(1.209);margin-right:3.20px">50</span><span class="k">분</span>)<br>Gilnori: Traditional Performance<br>Parade @Around Deoksugung<br>Palace</div></div>
<div style="left:766.4px;top:1475px;width:64.4px;height:114.5px;background:#ffc71a"></div>
<div style="left:702px;top:1271px;width:321px;height:2px;background:linear-gradient(to bottom,rgba(14,16,58,0.77) 0px 1px,rgba(14,16,58,0.58) 1px 2px)"></div>
<div style="left:702px;top:1374px;width:321px;height:2px;background:linear-gradient(to bottom,rgba(14,16,58,0.77) 0px 1px,rgba(14,16,58,0.58) 1px 2px)"></div>
<div style="left:702px;top:1474px;width:321px;height:3px;background:linear-gradient(to bottom,rgba(14,16,58,0.27) 0px 1px,rgba(14,16,58,1.00) 1px 2px,rgba(14,16,58,0.08) 2px 3px)"></div>
<div style="left:765px;top:1173px;width:3px;height:416.5px;background:linear-gradient(to right,rgba(14,16,58,0.10) 0px 1px,rgba(14,16,58,1.00) 1px 2px,rgba(14,16,58,0.20) 2px 3px)"></div>
<div style="left:830px;top:1173px;width:2px;height:416.5px;background:linear-gradient(to right,rgba(14,16,58,0.70) 0px 1px,rgba(14,16,58,0.60) 1px 2px)"></div>
<div style="left:894px;top:1173px;width:2px;height:416.5px;background:linear-gradient(to right,rgba(14,16,58,0.30) 0px 1px,rgba(14,16,58,1.00) 1px 2px)"></div>
<div style="left:959px;top:1173px;width:2px;height:416.5px;background:linear-gradient(to right,rgba(14,16,58,0.90) 0px 1px,rgba(14,16,58,0.40) 1px 2px)"></div>
<div class="ct" style="left:186.5px;top:1173px;width:140px;height:201.5px;"><div><div class="ck">체험</div><div class="ce">Experience</div></div></div>
<div style="left:180.5px;top:1374px;width:141.5px;height:2px;background:linear-gradient(to bottom,rgba(14,16,58,0.77) 0px 1px,rgba(14,16,58,0.58) 1px 2px)"></div>
<div class="ct" style="left:186.5px;top:1374.5px;width:140px;height:215px;"><div><div class="ck">공연</div><div class="ce">Performance</div></div></div>
<div style="left:1px;top:1599px;width:1022px;height:943px;background:#fff;box-shadow:0 0 0 1px #b98552"></div>
<div class="pl" style="left:1px;top:1599px;width:165px;height:943px;background:#9891fa"><div class="plin"><div class="pk">창경궁</div><div class="pe">Changgyeonggung<br>Palace</div></div></div>
<div class="pg N" style="left:341.5px;top:1598.6px;width:251.5px;height:98.6px;"><div><span class="k">동궐 장원서</span> @<span class="k">대온실</span><br><span class="d" style="transform:scaleX(1.147);margin-right:16.80px">10:00/14:00/16:00</span>(<span class="d" style="transform:scaleX(1.209);margin-right:3.20px">60</span><span class="k">분</span>)<br>Donggwol Jangwonseo @Grand<br>Greenhouse</div></div>
<div style="left:335.5px;top:1696px;width:238px;height:3px;background:linear-gradient(to bottom,rgba(14,16,58,0.07) 0px 1px,rgba(14,16,58,1.00) 1px 2px,rgba(14,16,58,0.28) 2px 3px)"></div>
<div style="left:587px;top:1696px;width:101.5px;height:3px;background:linear-gradient(to bottom,rgba(14,16,58,0.07) 0px 1px,rgba(14,16,58,1.00) 1px 2px,rgba(14,16,58,0.28) 2px 3px)"></div>
<div class="rv" style="left:587px;top:1598.6px;width:101px;height:98.6px;"><svg class="ic" width="18" height="18" viewBox="-9 -9 18 18"><circle r="6.85" fill="none" stroke="#0d1038" stroke-width="1.95"/><ellipse rx="3.1" ry="6.8" fill="none" stroke="#0d1038" stroke-width="1.3"/><line y1="-7" y2="7" stroke="#0d1038" stroke-width="1.25"/></svg></div>
<div style="left:702px;top:1598.6px;width:64.4px;height:98.6px;background:#9891fa"></div>
<div style="left:766.4px;top:1598.6px;width:64.4px;height:98.6px;background:#9891fa"></div>
<div style="left:830.8px;top:1598.6px;width:64.4px;height:98.6px;background:#9891fa"></div>
<div style="left:895.2px;top:1598.6px;width:64.4px;height:98.6px;background:#9891fa"></div>
<div style="left:959.6px;top:1598.6px;width:63.4px;height:98.6px;background:#9891fa"></div>
<div class="pg N" style="left:341.5px;top:1697.2px;width:251.5px;height:115.7px;"><div><span class="k">조선의 밤, 하늘과 바람</span> @<span class="k">창경궁 일대</span><br><span class="d" style="transform:scaleX(1.140);margin-right:11.05px">18:30~20:00</span>(<span class="d" style="transform:scaleX(1.209);margin-right:3.20px">90</span><span class="k">분</span>)<br>Night of Joseon, the Sky and the<br>Wind @Around Changgyeonggung<br>Palace</div></div>
<div style="left:335.5px;top:1812px;width:238px;height:2px;background:linear-gradient(to bottom,rgba(14,16,58,0.37) 0px 1px,rgba(14,16,58,0.98) 1px 2px)"></div>
<div style="left:587px;top:1812px;width:101.5px;height:2px;background:linear-gradient(to bottom,rgba(14,16,58,0.37) 0px 1px,rgba(14,16,58,0.98) 1px 2px)"></div>
<div class="rv" style="left:587px;top:1697.2px;width:101px;height:115.7px;"><svg class="ic" width="18" height="18" viewBox="-9 -9 18 18"><circle r="6.85" fill="none" stroke="#0d1038" stroke-width="1.95"/><ellipse rx="3.1" ry="6.8" fill="none" stroke="#0d1038" stroke-width="1.3"/><line y1="-7" y2="7" stroke="#0d1038" stroke-width="1.25"/></svg></div>
<div style="left:895.2px;top:1697.2px;width:64.4px;height:115.7px;background:#9891fa"></div>
<div style="left:959.6px;top:1697.2px;width:63.4px;height:115.7px;background:#9891fa"></div>
<div class="pg T" style="left:341.5px;top:1812.9px;width:251.5px;height:85.7px;"><div><span class="k">궁중놀이방</span> @<span class="k">환경전</span> <span class="d" style="transform:scaleX(1.091);margin-right:7.20px">10:00~17:00</span><br>Royal Court Games Playroom<br>@Hwangyeongjeon Hall</div></div>
<div style="left:335.5px;top:1898px;width:238px;height:2px;background:linear-gradient(to bottom,rgba(14,16,58,0.67) 0px 1px,rgba(14,16,58,0.67) 1px 2px)"></div>
<div style="left:587px;top:1898px;width:101.5px;height:2px;background:linear-gradient(to bottom,rgba(14,16,58,0.67) 0px 1px,rgba(14,16,58,0.67) 1px 2px)"></div>
<div style="left:702px;top:1812.9px;width:64.4px;height:85.7px;background:#9891fa"></div>
<div style="left:766.4px;top:1812.9px;width:64.4px;height:85.7px;background:#9891fa"></div>
<div style="left:830.8px;top:1812.9px;width:64.4px;height:85.7px;background:#9891fa"></div>
<div style="left:895.2px;top:1812.9px;width:64.4px;height:85.7px;background:#9891fa"></div>
<div style="left:959.6px;top:1812.9px;width:63.4px;height:85.7px;background:#9891fa"></div>
<div class="pg N" style="left:341.5px;top:1898.6px;width:251.5px;height:99.9px;"><div><span class="k">창경궁 물빛연화</span> @<span class="k">춘당지</span> <span class="d" style="transform:scaleX(1.102);margin-right:3.60px">19:00</span><br>Moonlight Lotus Show at<br>Changgyeonggung Palace<br>@Chundangji Pond</div></div>
<div style="left:335.5px;top:1998px;width:238px;height:2px;background:linear-gradient(to bottom,rgba(14,16,58,0.77) 0px 1px,rgba(14,16,58,0.58) 1px 2px)"></div>
<div style="left:587px;top:1998px;width:101.5px;height:2px;background:linear-gradient(to bottom,rgba(14,16,58,0.77) 0px 1px,rgba(14,16,58,0.58) 1px 2px)"></div>
<div style="left:702px;top:1898.6px;width:64.4px;height:99.9px;background:#9891fa"></div>
<div style="left:766.4px;top:1898.6px;width:64.4px;height:99.9px;background:#9891fa"></div>
<div style="left:830.8px;top:1898.6px;width:64.4px;height:99.9px;background:#9891fa"></div>
<div style="left:895.2px;top:1898.6px;width:64.4px;height:99.9px;background:#9891fa"></div>
<div style="left:959.6px;top:1898.6px;width:63.4px;height:99.9px;background:#9891fa"></div>
<div class="pg T" style="left:341.5px;top:1998.5px;width:251.5px;height:172px;"><div><span class="k">창경궁 시간여행</span> @<span class="k">명정문, 명정전, 경춘</span><br><span class="k">전, 통명전</span> <span class="d" style="transform:scaleX(1.096);margin-right:7.15px">11:00/14:00</span>(<span class="d" style="transform:scaleX(1.076);margin-right:1.75px">120</span><span class="k">분</span>)<br>A Time Travel, Changgyeonggung<br>Palace: Royal Palace Daily<br>Life @Myeongjeongmun<br>Gate, Myeongjeongjeon<br>Hall, Gyeongchunjeon Hall,<br>Tongmyeongjeon Hall</div></div>
<div style="left:335.5px;top:2170px;width:238px;height:2px;background:linear-gradient(to bottom,rgba(14,16,58,0.78) 0px 1px,rgba(14,16,58,0.58) 1px 2px)"></div>
<div style="left:587px;top:2170px;width:101.5px;height:2px;background:linear-gradient(to bottom,rgba(14,16,58,0.78) 0px 1px,rgba(14,16,58,0.58) 1px 2px)"></div>
<div style="left:895.2px;top:1998.5px;width:64.4px;height:172px;background:#9891fa"></div>
<div style="left:959.6px;top:1998.5px;width:63.4px;height:172px;background:#9891fa"></div>
<div class="pg N" style="left:341.5px;top:2170.5px;width:251.5px;height:115.1px;"><div><span class="k">궁중문화축전 길놀이</span> @<span class="k">창경궁 일대</span><br><span class="d" style="transform:scaleX(1.137);margin-right:10.20px">13:00/16:00</span>(<span class="d" style="transform:scaleX(1.209);margin-right:3.20px">50</span><span class="k">분</span>)<br>Gilnori: Traditional<br>Performance Parade @Around<br>Changgyeonggung Palace</div></div>
<div style="left:335.5px;top:2285px;width:238px;height:2px;background:linear-gradient(to bottom,rgba(14,16,58,0.68) 0px 1px,rgba(14,16,58,0.68) 1px 2px)"></div>
<div style="left:587px;top:2285px;width:101.5px;height:2px;background:linear-gradient(to bottom,rgba(14,16,58,0.68) 0px 1px,rgba(14,16,58,0.68) 1px 2px)"></div>
<div style="left:959.6px;top:2170.5px;width:63.4px;height:115.1px;background:#9891fa"></div>
<div class="pg T" style="left:341.5px;top:2285.6px;width:251.5px;height:120.4px;"><div><span class="k">창경궁 야연</span> @<span class="k">문정전</span> <span class="d" style="transform:scaleX(1.130);margin-right:10.25px">17:00~20:30</span><br>(<span class="d" style="transform:scaleX(1.076);margin-right:1.75px">210</span><span class="k">분</span>) <span class="k">공연</span>(<span class="d" style="transform:scaleX(1.209);margin-right:3.20px">50</span><span class="k">분</span>)<span class="d" style="transform:scaleX(1.102);margin-right:8.00px">19:10~20:00</span><br>Night Banquet at<br>Changgyeonggung Palace @<br>Myeongjeongjeon Hall</div></div>
<div style="left:335.5px;top:2405px;width:238px;height:3px;background:linear-gradient(to bottom,rgba(14,16,58,0.28) 0px 1px,rgba(14,16,58,1.00) 1px 2px,rgba(14,16,58,0.08) 2px 3px)"></div>
<div style="left:587px;top:2405px;width:101.5px;height:3px;background:linear-gradient(to bottom,rgba(14,16,58,0.28) 0px 1px,rgba(14,16,58,1.00) 1px 2px,rgba(14,16,58,0.08) 2px 3px)"></div>
<div class="rv" style="left:587px;top:2285.6px;width:101px;height:120.4px;"><svg class="ic" width="18" height="18" viewBox="-9 -9 18 18"><circle r="6.85" fill="none" stroke="#0d1038" stroke-width="1.95"/><ellipse rx="3.1" ry="6.8" fill="none" stroke="#0d1038" stroke-width="1.3"/><line y1="-7" y2="7" stroke="#0d1038" stroke-width="1.25"/></svg></div>
<div style="left:702px;top:2285.6px;width:64.4px;height:120.4px;background:#9891fa"></div>
<div style="left:766.4px;top:2285.6px;width:64.4px;height:120.4px;background:#9891fa"></div>
<div class="pg T" style="left:341.5px;top:2406px;width:251.5px;height:136.4px;"><div><span class="k">동궐, 창경궁의 시간</span> @<span class="k">집복헌, 영춘헌</span><br><span class="d" style="transform:scaleX(1.091);margin-right:7.20px">10:00~17:00</span><br>Changgyeonggung through<br>Time: <span class="d" style="transform:scaleX(1.209);margin-right:4.80px">600</span> Years within the<br>Eastern Palaces @Jipbokeon Hall,<br>Yeongchunheon Hall</div></div>
<div style="left:702px;top:2406px;width:64.4px;height:136.4px;background:#9891fa"></div>
<div style="left:766.4px;top:2406px;width:64.4px;height:136.4px;background:#9891fa"></div>
<div style="left:830.8px;top:2406px;width:64.4px;height:136.4px;background:#9891fa"></div>
<div style="left:895.2px;top:2406px;width:64.4px;height:136.4px;background:#9891fa"></div>
<div style="left:959.6px;top:2406px;width:63.4px;height:136.4px;background:#9891fa"></div>
<div style="left:702px;top:1696px;width:321px;height:3px;background:linear-gradient(to bottom,rgba(14,16,58,0.07) 0px 1px,rgba(14,16,58,1.00) 1px 2px,rgba(14,16,58,0.28) 2px 3px)"></div>
<div style="left:702px;top:1812px;width:321px;height:2px;background:linear-gradient(to bottom,rgba(14,16,58,0.37) 0px 1px,rgba(14,16,58,0.98) 1px 2px)"></div>
<div style="left:702px;top:1898px;width:321px;height:2px;background:linear-gradient(to bottom,rgba(14,16,58,0.67) 0px 1px,rgba(14,16,58,0.67) 1px 2px)"></div>
<div style="left:702px;top:1998px;width:321px;height:2px;background:linear-gradient(to bottom,rgba(14,16,58,0.77) 0px 1px,rgba(14,16,58,0.58) 1px 2px)"></div>
<div style="left:702px;top:2170px;width:321px;height:2px;background:linear-gradient(to bottom,rgba(14,16,58,0.78) 0px 1px,rgba(14,16,58,0.58) 1px 2px)"></div>
<div style="left:702px;top:2285px;width:321px;height:2px;background:linear-gradient(to bottom,rgba(14,16,58,0.68) 0px 1px,rgba(14,16,58,0.68) 1px 2px)"></div>
<div style="left:702px;top:2405px;width:321px;height:3px;background:linear-gradient(to bottom,rgba(14,16,58,0.28) 0px 1px,rgba(14,16,58,1.00) 1px 2px,rgba(14,16,58,0.08) 2px 3px)"></div>
<div style="left:765px;top:1598.6px;width:3px;height:943.8px;background:linear-gradient(to right,rgba(14,16,58,0.10) 0px 1px,rgba(14,16,58,1.00) 1px 2px,rgba(14,16,58,0.20) 2px 3px)"></div>
<div style="left:830px;top:1598.6px;width:2px;height:943.8px;background:linear-gradient(to right,rgba(14,16,58,0.70) 0px 1px,rgba(14,16,58,0.60) 1px 2px)"></div>
<div style="left:894px;top:1598.6px;width:2px;height:943.8px;background:linear-gradient(to right,rgba(14,16,58,0.30) 0px 1px,rgba(14,16,58,1.00) 1px 2px)"></div>
<div style="left:959px;top:1598.6px;width:2px;height:943.8px;background:linear-gradient(to right,rgba(14,16,58,0.90) 0px 1px,rgba(14,16,58,0.40) 1px 2px)"></div>
<div class="ct" style="left:186.5px;top:1598.6px;width:140px;height:399.9px;"><div><div class="ck">체험</div><div class="ce">Experience</div></div></div>
<div style="left:180.5px;top:1998px;width:141.5px;height:2px;background:linear-gradient(to bottom,rgba(14,16,58,0.77) 0px 1px,rgba(14,16,58,0.58) 1px 2px)"></div>
<div class="ct" style="left:186.5px;top:1998.5px;width:140px;height:172px;"><div><div class="ck">재현</div><div class="ce">Reconstruction</div></div></div>
<div style="left:180.5px;top:2170px;width:141.5px;height:2px;background:linear-gradient(to bottom,rgba(14,16,58,0.78) 0px 1px,rgba(14,16,58,0.58) 1px 2px)"></div>
<div class="ct" style="left:186.5px;top:2170.5px;width:140px;height:235.5px;"><div><div class="ck">공연</div><div class="ce">Performance</div></div></div>
<div style="left:180.5px;top:2405px;width:141.5px;height:3px;background:linear-gradient(to bottom,rgba(14,16,58,0.28) 0px 1px,rgba(14,16,58,1.00) 1px 2px,rgba(14,16,58,0.08) 2px 3px)"></div>
<div class="ct" style="left:186.5px;top:2406px;width:140px;height:136.4px;"><div><div class="ck">전시</div><div class="ce">Exhibition</div></div></div>
<div style="left:1px;top:2552px;width:1022px;height:314px;background:#fff;box-shadow:0 0 0 1px #b98552"></div>
<div class="pl" style="left:1px;top:2552px;width:165px;height:314px;background:#e2c4a0"><div class="plin"><div class="pk">종묘</div><div class="pe">Jongmyo Shrine</div></div></div>
<div class="pg N" style="left:341.5px;top:2551.7px;width:251.5px;height:114.8px;"><div><span class="k">종묘 건축 탐험대</span> @<span class="k">종묘 일대</span><br><span class="d" style="transform:scaleX(1.172);margin-right:26.45px">09:30/12:30/14:30/16:30</span>(<span class="d" style="transform:scaleX(1.209);margin-right:3.20px">80</span><span class="k">분</span>)<br>Jongmyo Shrine Architectural<br>Expedition @Around Jongmyo<br>Shrine</div></div>
<div style="left:335.5px;top:2666px;width:238px;height:2px;background:linear-gradient(to bottom,rgba(14,16,58,0.78) 0px 1px,rgba(14,16,58,0.58) 1px 2px)"></div>
<div style="left:587px;top:2666px;width:101.5px;height:2px;background:linear-gradient(to bottom,rgba(14,16,58,0.78) 0px 1px,rgba(14,16,58,0.58) 1px 2px)"></div>
<div class="rv" style="left:587px;top:2551.7px;width:101px;height:114.8px;"><svg class="ic" width="18" height="18" viewBox="-9 -9 18 18"><circle r="6.85" fill="none" stroke="#0d1038" stroke-width="1.95"/><ellipse rx="3.1" ry="6.8" fill="none" stroke="#0d1038" stroke-width="1.3"/><line y1="-7" y2="7" stroke="#0d1038" stroke-width="1.25"/></svg></div>
<div style="left:895.2px;top:2551.7px;width:64.4px;height:114.8px;background:#e2c4a0"></div>
<div style="left:959.6px;top:2551.7px;width:63.4px;height:114.8px;background:#e2c4a0"></div>
<div class="pg N" style="left:341.5px;top:2666.5px;width:251.5px;height:99.5px;"><div><span class="k">종묘 인문학 콘서트</span> @<span class="k">영녕전</span><br><span class="d" style="transform:scaleX(1.102);margin-right:8.00px">15:30~16:40</span>(<span class="d" style="transform:scaleX(1.157);margin-right:2.40px">70</span><span class="k">분</span>)<br>Jongmyo&nbsp; Humanities Concert<br>@Yeongnyeongjeon Hall</div></div>
<div style="left:335.5px;top:2765px;width:238px;height:3px;background:linear-gradient(to bottom,rgba(14,16,58,0.28) 0px 1px,rgba(14,16,58,1.00) 1px 2px,rgba(14,16,58,0.08) 2px 3px)"></div>
<div style="left:587px;top:2765px;width:101.5px;height:3px;background:linear-gradient(to bottom,rgba(14,16,58,0.28) 0px 1px,rgba(14,16,58,1.00) 1px 2px,rgba(14,16,58,0.08) 2px 3px)"></div>
<div class="rv" style="left:587px;top:2666.5px;width:101px;height:99.5px;"><svg class="ic" width="18" height="18" viewBox="-9 -9 18 18"><circle r="6.85" fill="none" stroke="#0d1038" stroke-width="1.95"/><ellipse rx="3.1" ry="6.8" fill="none" stroke="#0d1038" stroke-width="1.3"/><line y1="-7" y2="7" stroke="#0d1038" stroke-width="1.25"/></svg></div>
<div style="left:702px;top:2666.5px;width:64.4px;height:99.5px;background:#e2c4a0"></div>
<div class="pg N" style="left:341.5px;top:2766px;width:251.5px;height:99.5px;"><div><span class="k">고궁음악회</span> ‘<span class="k">풍류에 제례악을 더하다</span>’<br>@<span class="k">영녕전</span> <span class="d" style="transform:scaleX(1.137);margin-right:10.20px">14:00/16:00</span>(<span class="d" style="transform:scaleX(1.209);margin-right:3.20px">40</span><span class="k">분</span>)<br>Palace Concert: Jeryeak Meets<br>Pungnyu @Yeongnyeongjeon Hall</div></div>
<div style="left:766.4px;top:2766px;width:64.4px;height:99.5px;background:#e2c4a0"></div>
<div style="left:830.8px;top:2766px;width:64.4px;height:99.5px;background:#e2c4a0"></div>
<div style="left:895.2px;top:2766px;width:64.4px;height:99.5px;background:#e2c4a0"></div>
<div style="left:959.6px;top:2766px;width:63.4px;height:99.5px;background:#e2c4a0"></div>
<div style="left:702px;top:2666px;width:321px;height:2px;background:linear-gradient(to bottom,rgba(14,16,58,0.78) 0px 1px,rgba(14,16,58,0.58) 1px 2px)"></div>
<div style="left:702px;top:2765px;width:321px;height:3px;background:linear-gradient(to bottom,rgba(14,16,58,0.28) 0px 1px,rgba(14,16,58,1.00) 1px 2px,rgba(14,16,58,0.08) 2px 3px)"></div>
<div style="left:765px;top:2551.7px;width:3px;height:313.8px;background:linear-gradient(to right,rgba(14,16,58,0.10) 0px 1px,rgba(14,16,58,1.00) 1px 2px,rgba(14,16,58,0.20) 2px 3px)"></div>
<div style="left:830px;top:2551.7px;width:2px;height:313.8px;background:linear-gradient(to right,rgba(14,16,58,0.70) 0px 1px,rgba(14,16,58,0.60) 1px 2px)"></div>
<div style="left:894px;top:2551.7px;width:2px;height:313.8px;background:linear-gradient(to right,rgba(14,16,58,0.30) 0px 1px,rgba(14,16,58,1.00) 1px 2px)"></div>
<div style="left:959px;top:2551.7px;width:2px;height:313.8px;background:linear-gradient(to right,rgba(14,16,58,0.90) 0px 1px,rgba(14,16,58,0.40) 1px 2px)"></div>
<div class="ct" style="left:186.5px;top:2551.7px;width:140px;height:114.8px;"><div><div class="ck">체험</div><div class="ce">Experience</div></div></div>
<div style="left:180.5px;top:2666px;width:141.5px;height:2px;background:linear-gradient(to bottom,rgba(14,16,58,0.78) 0px 1px,rgba(14,16,58,0.58) 1px 2px)"></div>
<div class="ct" style="left:186.5px;top:2666.5px;width:140px;height:199px;"><div><div class="ck">공연</div><div class="ce">Performance</div></div></div>
<div style="left:1px;top:2874px;width:1022px;height:198px;background:#fff;box-shadow:0 0 0 1px #b98552"></div>
<div class="pl" style="left:1px;top:2874px;width:165px;height:198px;background:#efefef"><div class="plin"><div class="pk">기타</div><div class="pe">Etc.</div></div></div>
<div class="pg N" style="left:341.5px;top:2874.4px;width:251.5px;height:114.8px;"><div><span class="k">궁중문화축전 스탬프 투어</span> @<span class="d" style="transform:scaleX(1.209);margin-right:1.60px">4</span><span class="k">대궁 및 종</span><br><span class="k">묘</span> <span class="d" style="transform:scaleX(1.140);margin-right:11.05px">09:00~18:00</span><br>K-Royal Culture Festival Stamp<br>Tour @The Four Royal Palaces and<br>Jongmyo Shrine</div></div>
<div style="left:335.5px;top:2988px;width:238px;height:3px;background:linear-gradient(to bottom,rgba(14,16,58,0.08) 0px 1px,rgba(14,16,58,1.00) 1px 2px,rgba(14,16,58,0.28) 2px 3px)"></div>
<div style="left:587px;top:2988px;width:101.5px;height:3px;background:linear-gradient(to bottom,rgba(14,16,58,0.08) 0px 1px,rgba(14,16,58,1.00) 1px 2px,rgba(14,16,58,0.28) 2px 3px)"></div>
<div style="left:702px;top:2874.4px;width:64.4px;height:114.8px;background:#efefef"></div>
<div style="left:766.4px;top:2874.4px;width:64.4px;height:114.8px;background:#efefef"></div>
<div style="left:830.8px;top:2874.4px;width:64.4px;height:114.8px;background:#efefef"></div>
<div style="left:895.2px;top:2874.4px;width:64.4px;height:114.8px;background:#efefef"></div>
<div style="left:959.6px;top:2874.4px;width:63.4px;height:114.8px;background:#efefef"></div>
<div class="pg N" style="left:341.5px;top:2989.2px;width:251.5px;height:83.1px;"><div><span class="k">모두의 풍속도</span> <span class="d" style="transform:scaleX(1.209);margin-right:6.40px">2025</span> @<span class="k">온라인</span><br>Genre Painting For All <span class="d" style="transform:scaleX(1.209);margin-right:6.40px">2025</span><br>@online</div></div>
<div class="rv" style="left:587px;top:2989.2px;width:101px;height:83.1px;"><span class="inf">∞</span></div>
<div style="left:702px;top:2989.2px;width:64.4px;height:83.1px;background:#efefef"></div>
<div style="left:766.4px;top:2989.2px;width:64.4px;height:83.1px;background:#efefef"></div>
<div style="left:830.8px;top:2989.2px;width:64.4px;height:83.1px;background:#efefef"></div>
<div style="left:895.2px;top:2989.2px;width:64.4px;height:83.1px;background:#efefef"></div>
<div style="left:959.6px;top:2989.2px;width:63.4px;height:83.1px;background:#efefef"></div>
<div style="left:702px;top:2988px;width:321px;height:3px;background:linear-gradient(to bottom,rgba(14,16,58,0.08) 0px 1px,rgba(14,16,58,1.00) 1px 2px,rgba(14,16,58,0.28) 2px 3px)"></div>
<div style="left:765px;top:2874.4px;width:3px;height:197.9px;background:linear-gradient(to right,rgba(14,16,58,0.10) 0px 1px,rgba(14,16,58,1.00) 1px 2px,rgba(14,16,58,0.20) 2px 3px)"></div>
<div style="left:830px;top:2874.4px;width:2px;height:197.9px;background:linear-gradient(to right,rgba(14,16,58,0.70) 0px 1px,rgba(14,16,58,0.60) 1px 2px)"></div>
<div style="left:894px;top:2874.4px;width:2px;height:197.9px;background:linear-gradient(to right,rgba(14,16,58,0.30) 0px 1px,rgba(14,16,58,1.00) 1px 2px)"></div>
<div style="left:959px;top:2874.4px;width:2px;height:197.9px;background:linear-gradient(to right,rgba(14,16,58,0.90) 0px 1px,rgba(14,16,58,0.40) 1px 2px)"></div>
<div class="ct" style="left:186.5px;top:2874.4px;width:140px;height:197.9px;"><div><div class="ck">체험</div><div class="ce">Experience</div></div></div>
</div></body></html>
